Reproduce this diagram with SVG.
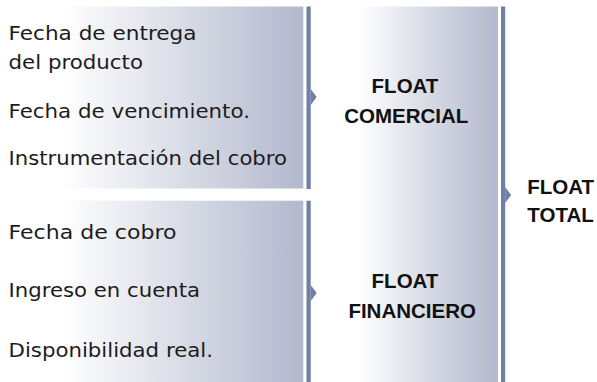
<svg xmlns="http://www.w3.org/2000/svg" width="597" height="382" viewBox="0 0 597 382">
<defs>
<linearGradient id="gL" x1="0" y1="0" x2="1" y2="0">
<stop offset="0" stop-color="#ffffff"/>
<stop offset="0.2" stop-color="#ffffff"/>
<stop offset="0.6" stop-color="#d9dce6"/>
<stop offset="1" stop-color="#b2b8cd"/>
</linearGradient>
<linearGradient id="gM" x1="0" y1="0" x2="1" y2="0">
<stop offset="0" stop-color="#ffffff"/>
<stop offset="0.25" stop-color="#ffffff"/>
<stop offset="0.6" stop-color="#dadde7"/>
<stop offset="1" stop-color="#b3b9ce"/>
</linearGradient>
<style>
.t{font-family:"DejaVu Sans","Liberation Sans",sans-serif;font-size:19px;fill:#1c1c1c}
.b{font-family:"Liberation Sans",Arial,sans-serif;font-size:20.5px;font-weight:bold;fill:#111}
.ln{fill:#6f7fa5}
</style>
</defs>
<rect width="597" height="382" fill="#ffffff"/>
<g id="box-comercial-items">
<rect x="0" y="6.5" width="303.3" height="182" fill="url(#gL)"/>
<text class="t" x="8.5" y="39.5" textLength="188" lengthAdjust="spacingAndGlyphs">Fecha de entrega</text>
<text class="t" x="8.5" y="69" textLength="134.5" lengthAdjust="spacingAndGlyphs">del producto</text>
<text class="t" x="8.5" y="118" textLength="241.5" lengthAdjust="spacingAndGlyphs">Fecha de vencimiento.</text>
<text class="t" x="8.5" y="165" textLength="278.5" lengthAdjust="spacingAndGlyphs">Instrumentación del cobro</text>
</g>
<g id="box-financiero-items">
<rect x="0" y="200.7" width="303.3" height="181.3" fill="url(#gL)"/>
<text class="t" x="8.5" y="239" textLength="168" lengthAdjust="spacingAndGlyphs">Fecha de cobro</text>
<text class="t" x="8.5" y="297.3" textLength="191.5" lengthAdjust="spacingAndGlyphs">Ingreso en cuenta</text>
<text class="t" x="8.5" y="356.7" textLength="204.5" lengthAdjust="spacingAndGlyphs">Disponibilidad real.</text>
</g>
<g id="box-middle">
<rect x="312" y="6.5" width="186" height="375.5" fill="url(#gM)"/>
</g>
<g id="node-comercial">
<text class="b" x="405" y="92.7" text-anchor="middle">FLOAT</text>
<text class="b" x="406.3" y="123.3" text-anchor="middle">COMERCIAL</text>
</g>
<g id="node-financiero">
<text class="b" x="405" y="287.7" text-anchor="middle">FLOAT</text>
<text class="b" x="412.2" y="318.3" text-anchor="middle">FINANCIERO</text>
</g>
<g id="node-total">
<text class="b" x="527.3" y="194.3">FLOAT</text>
<text class="b" x="527.3" y="221.7">TOTAL</text>
</g>
<g id="connectors">
<rect class="ln" x="306.5" y="6.5" width="4.2" height="182.5"/>
<polygon class="ln" points="310.7,89 316.7,97 310.7,105"/>
<rect class="ln" x="306.5" y="200.7" width="4.2" height="181.3"/>
<polygon class="ln" points="310.7,285 316.7,293 310.7,301"/>
<rect class="ln" x="501" y="6.5" width="4.2" height="375.5"/>
<polygon class="ln" points="505.2,187 511.2,195 505.2,203"/>
</g>
</svg>
